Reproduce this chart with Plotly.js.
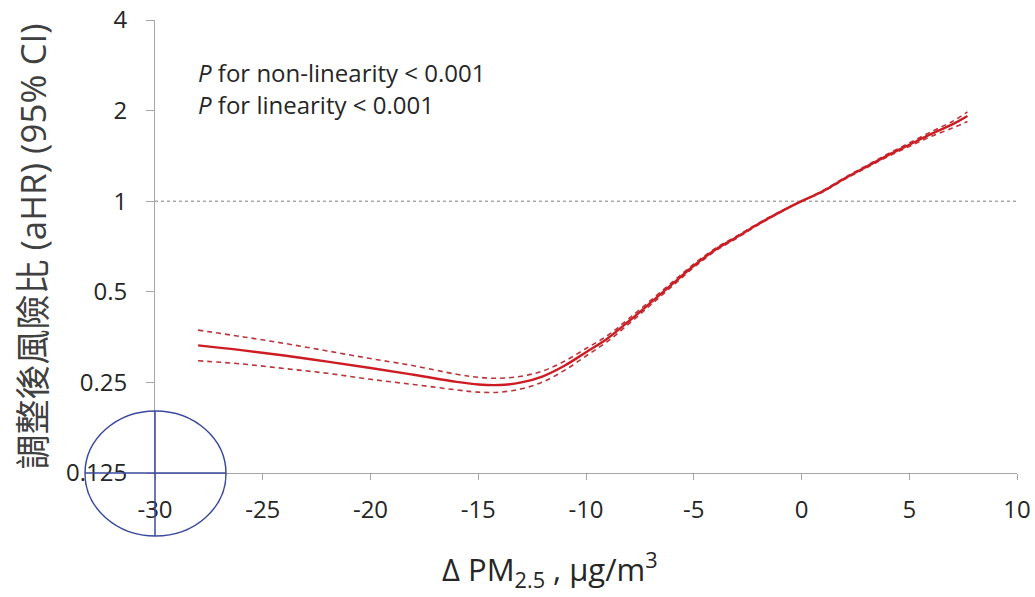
<!DOCTYPE html>
<html>
<head>
<meta charset="utf-8">
<script src="https://cdn.plot.ly/plotly-3.0.1.min.js"></script>
<style>html,body{margin:0;padding:0;background:#fff;}#chart{width:1035px;height:597px;}</style>
</head>
<body>
<div id="chart"></div>
<script>
// Δ PM2.5 (µg/m³)
const deltaPM = [-28,-26,-24,-22,-20,-18,-16,-15,-14,-13,-12,-11,-10,-9,-8,-7,-6,-5,-4,-3,-2,-1,0,1,2,3,4,5,6,7,7.7];
// adjusted hazard ratio
const aHR = [0.332,0.320,0.307,0.293,0.279,0.265,0.251,0.246,0.245,0.250,0.262,0.284,0.315,0.350,0.400,0.460,0.530,0.610,0.690,0.760,0.840,0.920,1.000,1.080,1.190,1.300,1.420,1.540,1.670,1.800,1.920];
// 95% CI upper
const ciUpper = [0.373,0.355,0.337,0.318,0.300,0.284,0.266,0.260,0.258,0.262,0.273,0.294,0.324,0.358,0.408,0.468,0.538,0.618,0.697,0.766,0.845,0.923,1.000,1.085,1.198,1.310,1.435,1.560,1.700,1.840,1.980];
// 95% CI lower
const ciLower = [0.295,0.288,0.278,0.268,0.256,0.246,0.236,0.232,0.232,0.238,0.251,0.274,0.306,0.342,0.392,0.452,0.522,0.602,0.683,0.754,0.835,0.917,1.000,1.075,1.182,1.290,1.405,1.520,1.640,1.750,1.840];
const yTickVals = [0.125,0.25,0.5,1,2,4];
const yTickText = ['0.125','0.25','0.5','1','2','4'];
const xTickVals = [-30,-25,-20,-15,-10,-5,0,5,10];
const pText = ['<i>P</i> for non-linearity < 0.001','<i>P</i> for linearity < 0.001'];
const xTitle = 'Δ PM<sub>2.5</sub> , µg/m<sup>3</sup>';
const yTitle = '調整後風險比 (aHR) (95% CI)';

const FONT = '"Open Sans", "Noto Sans CJK TC", sans-serif';
const red = '#cc1c24';
const dashRed = '#b8343a';

const traces = [
  {x: deltaPM, y: ciUpper, type: 'scatter', mode: 'lines', line: {color: dashRed, width: 1.6, dash: '5px,4px', shape: 'spline'}, name: '95% CI upper', hoverinfo: 'x+y'},
  {x: deltaPM, y: ciLower, type: 'scatter', mode: 'lines', line: {color: dashRed, width: 1.6, dash: '5px,4px', shape: 'spline'}, name: '95% CI lower', hoverinfo: 'x+y'},
  {x: deltaPM, y: aHR, type: 'scatter', mode: 'lines', line: {color: red, width: 2.4, shape: 'spline'}, name: 'aHR', hoverinfo: 'x+y'}
];

const blue = '#3b4a9c';
const layout = {
  width: 1035, height: 597,
  margin: {l: 155, r: 18, t: 20, b: 124},
  paper_bgcolor: '#fff', plot_bgcolor: '#fff',
  showlegend: false,
  font: {family: FONT, color: '#333'},
  xaxis: {
    range: [-30, 10], tickvals: xTickVals, ticktext: xTickVals.map(String),
    showgrid: false, zeroline: false, showline: true, linecolor: '#a6a6a6', linewidth: 1,
    ticks: 'outside', ticklen: 6, tickcolor: '#a6a6a6', ticklabelstandoff: 9,
    tickfont: {size: 24, color: '#262626', family: FONT}
  },
  yaxis: {
    type: 'log', range: [Math.log10(0.125), Math.log10(4)],
    tickvals: yTickVals, ticktext: yTickText,
    showgrid: false, zeroline: false, showline: true, linecolor: '#a6a6a6', linewidth: 1,
    ticks: 'outside', ticklen: 8, tickcolor: '#a6a6a6', ticklabelstandoff: 14,
    tickfont: {size: 24, color: '#262626', family: FONT},
    title: {text: yTitle, font: {size: 35, color: '#404040', family: FONT}, standoff: 8}
  },
  shapes: [
    {type: 'line', xref: 'paper', x0: 0, x1: 1, yref: 'y', y0: 1, y1: 1, line: {color: '#7f7f7f', width: 1, dash: 'dot'}, layer: 'below'},
    {type: 'circle', xref: 'paper', yref: 'paper', xsizemode: 'pixel', ysizemode: 'pixel', xanchor: 0, yanchor: 0, x0: -70, x1: 71, y0: -63, y1: 62, line: {color: blue, width: 1.5}},
    {type: 'line', xref: 'paper', yref: 'paper', xsizemode: 'pixel', ysizemode: 'pixel', xanchor: 0, yanchor: 0, x0: -70, x1: 71, y0: 0, y1: 0, line: {color: blue, width: 1.5}},
    {type: 'line', xref: 'paper', yref: 'paper', xsizemode: 'pixel', ysizemode: 'pixel', xanchor: 0, yanchor: 0, x0: 0, x1: 0, y0: -63, y1: 62, line: {color: blue, width: 1.5}}
  ],
  annotations: [
    {xref: 'paper', yref: 'paper', x: 0.047, y: 1, yshift: -52, xanchor: 'left', yanchor: 'middle', text: pText[0], showarrow: false, font: {size: 24, color: '#262626', family: FONT}},
    {xref: 'paper', yref: 'paper', x: 0.047, y: 1, yshift: -84, xanchor: 'left', yanchor: 'middle', text: pText[1], showarrow: false, font: {size: 24, color: '#262626', family: FONT}},
    {xref: 'paper', yref: 'paper', x: 0.458, y: 0, yshift: -96, xanchor: 'center', yanchor: 'middle', text: xTitle, showarrow: false, font: {size: 31, color: '#262626', family: FONT}}
  ]
};

Plotly.newPlot('chart', traces, layout, {displayModeBar: false, staticPlot: true});
</script>
</body>
</html>
